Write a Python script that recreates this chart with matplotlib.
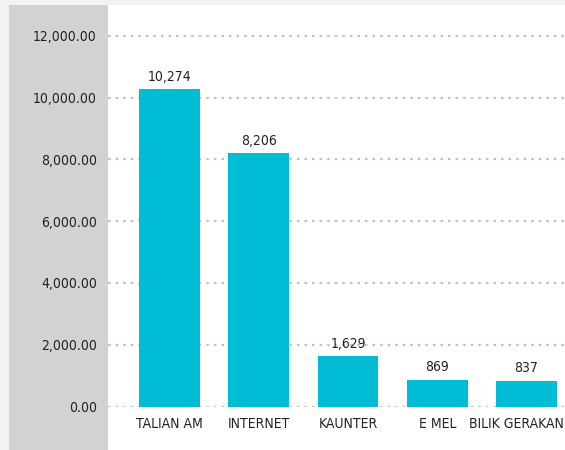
import matplotlib
matplotlib.use("Agg")
import matplotlib.pyplot as plt
from matplotlib.patches import Rectangle
from matplotlib.transforms import blended_transform_factory

# data
categories = ["TALIAN AM", "INTERNET", "KAUNTER", "E MEL", "BILIK GERAKAN"]
values = [10274, 8206, 1629, 869, 837]
y_ticks = [0, 2000, 4000, 6000, 8000, 10000, 12000]

BAR_COLOR = "#00bcd4"
TEXT_COLOR = "#222222"
FONT = dict(family="DejaVu Sans", stretch="condensed", fontsize=10,
            color=TEXT_COLOR)


def main():
    W, H = 565, 450
    fig = plt.figure(figsize=(W / 100, H / 100), dpi=100)
    fig.patch.set_facecolor("#f3f2f0")

    # grey label panel and white plot panel
    fig.patches.append(Rectangle((9 / W, 0), 99 / W, 445 / H,
                                 transform=fig.transFigure, facecolor="#d1d2d4",
                                 edgecolor="none", zorder=0))
    fig.patches.append(Rectangle((108 / W, 0), (W - 108) / W, 445 / H,
                                 transform=fig.transFigure, facecolor="white",
                                 edgecolor="none", zorder=0))

    # axes from y=5px to y=407px, 12000 sits at y=36px
    ax = fig.add_axes([108 / W, (H - 407) / H, (W - 108) / W, 402 / H])
    ax.set_zorder(2)
    ax.set_facecolor("none")

    x = list(range(len(categories)))
    ax.bar(x, values, width=0.683, color=BAR_COLOR, zorder=3)

    for xi, v in zip(x, values):
        ax.annotate(f"{v:,}", (xi, v), xytext=(0, 4), textcoords="offset points",
                    ha="center", va="bottom", **FONT)

    xmax = 4.431
    ax.set_xlim(-0.689, xmax)
    ax.set_ylim(-12000 * 0.5 / 371, 12000 * 402 / 371)
    ax.set_yticks(y_ticks)
    ax.set_yticklabels([f"{t:,.2f}" for t in y_ticks], **FONT)
    ax.tick_params(axis="y", length=0, pad=8)
    ax.set_xticks([])

    # category labels, last one kept inside the right edge
    trans = blended_transform_factory(ax.transData, ax.transAxes)
    for xi, cat in zip(x, categories):
        if xi == len(categories) - 1:
            ax.annotate(cat, (xmax, 0), xycoords=trans, xytext=(-1, -12),
                        textcoords="offset points", ha="right", va="center",
                        annotation_clip=False, **FONT)
        else:
            ax.annotate(cat, (xi, 0), xycoords=trans, xytext=(0, -12),
                        textcoords="offset points", ha="center", va="center",
                        annotation_clip=False, **FONT)

    ax.grid(axis="y", linestyle=(0, (1.2, 2.2)), color="#c4c4c4", linewidth=1.6,
            zorder=1)
    ax.set_axisbelow(True)
    for s in ax.spines.values():
        s.set_visible(False)

    fig.savefig("out.png", dpi=100, facecolor=fig.get_facecolor())


if __name__ == "__main__":
    main()
